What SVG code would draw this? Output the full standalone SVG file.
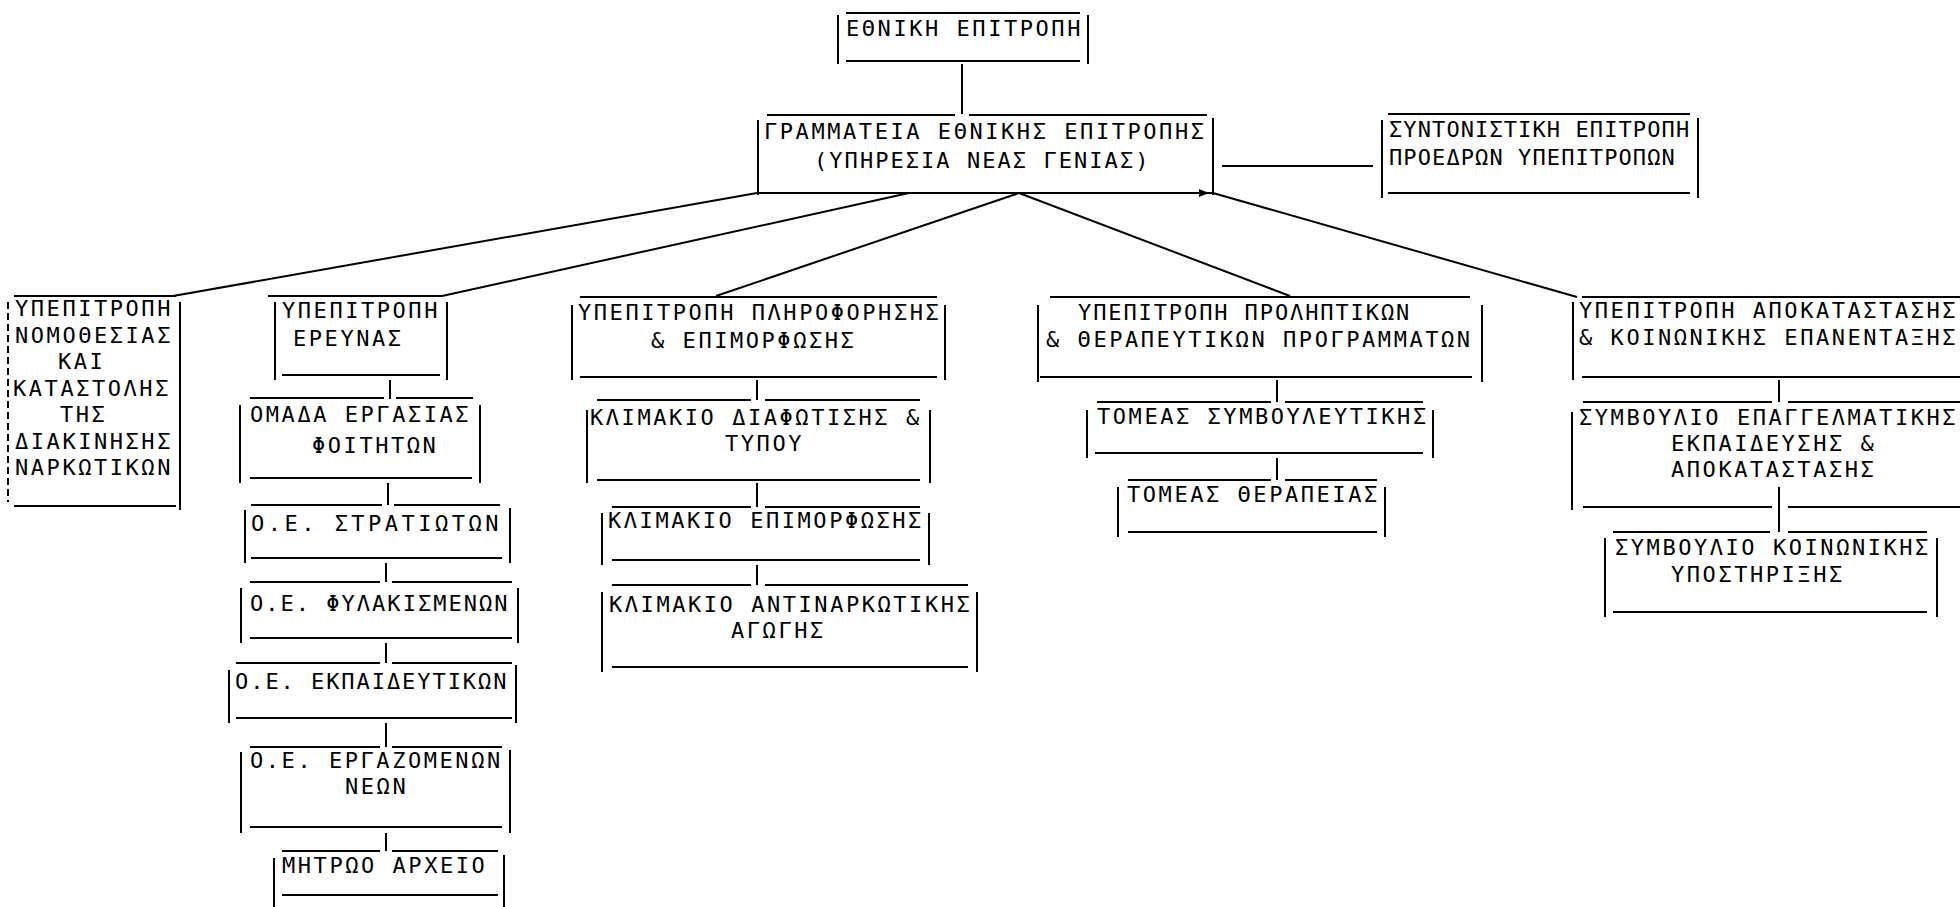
<svg xmlns="http://www.w3.org/2000/svg" width="1960" height="907" viewBox="0 0 1960 907">
<style>
.l{stroke:#000;stroke-width:2;fill:none}
text{font-family:"DejaVu Sans Mono","Liberation Mono",monospace;font-size:22px;letter-spacing:2.55px;fill:#000}
.g1 text{letter-spacing:2.05px}
.g2 text{letter-spacing:1.1px}
.g3 text{letter-spacing:1.9px}
</style>
<rect x="0" y="0" width="1960" height="907" fill="#fff"/>
<g id="connectors" class="l">
<path d="M962 64V114"/>
<path d="M1222 166H1373"/>
<path d="M757 193L173 296"/>
<path d="M909 193L442 296"/>
<path d="M1019 193L716 296"/>
<path d="M1019 193L1290 296"/>
<path d="M1213 193L1577 297"/>
<path d="M390 380V399"/>
<path d="M388 483V505"/>
<path d="M386 563V582"/>
<path d="M386 643V663"/>
<path d="M386 723V747"/>
<path d="M386 833V851"/>
<path d="M757 380V400"/>
<path d="M757 483V507"/>
<path d="M757 565V585"/>
<path d="M1277 380V402"/>
<path d="M1277 458V480"/>
<path d="M1779 380V402"/>
<path d="M1779 487V532"/>
</g>
<g id="ethniki">
<path class="l" d="M846 13H1080M846 61H1080M838 15V64M1088 15V64"/>
<text x="846" y="36">ΕΘΝΙΚΗ ΕΠΙΤΡΟΠΗ</text>
</g>
<g id="grammateia" class="g1">
<path class="l" d="M767 115H955M969 115H1207M758 193H1213M758 120V195M1213 118V195"/>
<polygon points="1199,189 1209,193 1199,197" fill="#000"/>
<text x="764" y="139" textLength="442">ΓΡΑΜΜΑΤΕΙΑ ΕΘΝΙΚΗΣ ΕΠΙΤΡΟΠΗΣ</text>
<text x="814" y="168">(ΥΠΗΡΕΣΙΑ ΝΕΑΣ ΓΕΝΙΑΣ)</text>
</g>
<g id="syntonistiki" class="g2">
<path class="l" d="M1388 114H1690M1388 193H1690M1382 120V198M1698 118V198"/>
<text x="1389" y="137">ΣΥΝΤΟΝΙΣΤΙΚΗ ΕΠΙΤΡΟΠΗ</text>
<text x="1389" y="165">ΠΡΟΕΔΡΩΝ ΥΠΕΠΙΤΡΟΠΩΝ</text>
</g>
<g id="nomothesias">
<path class="l" d="M14 296H176M14 506H176M180 302V510"/>
<path class="l" d="M8 302V502" stroke-dasharray="7 4"/>
<text x="15" y="316">ΥΠΕΠΙΤΡΟΠΗ</text>
<text x="15" y="342.5">ΝΟΜΟΘΕΣΙΑΣ</text>
<text x="58" y="369">ΚΑΙ</text>
<text x="13" y="395.5">ΚΑΤΑΣΤΟΛΗΣ</text>
<text x="60" y="422">ΤΗΣ</text>
<text x="15" y="448.5">ΔΙΑΚΙΝΗΣΗΣ</text>
<text x="15" y="475">ΝΑΡΚΩΤΙΚΩΝ</text>
</g>
<g id="erevnas">
<path class="l" d="M268 296H442M282 375H440M275 302V380M447 302V380"/>
<text x="282" y="318">ΥΠΕΠΙΤΡΟΠΗ</text>
<text x="293" y="346">ΕΡΕΥΝΑΣ</text>
</g>
<g id="omada-foititon">
<path class="l" d="M250 398H384M396 398H473M250 478H472M240 405V483M480 405V483"/>
<text x="250" y="422">ΟΜΑΔΑ ΕΡΓΑΣΙΑΣ</text>
<text x="312" y="453">ΦΟΙΤΗΤΩΝ</text>
</g>
<g id="oe-stratioton">
<path class="l" d="M251 505H382M394 505H500M251 558H502M245 510V563M510 508V563"/>
<text x="251" y="531" textLength="250">Ο.Ε. ΣΤΡΑΤΙΩΤΩΝ</text>
</g>
<g id="oe-fylakismenon">
<path class="l" d="M250 582H380M392 582H512M250 638H512M241 588V643M518 588V643"/>
<text x="250" y="611" textLength="260">Ο.Ε. ΦΥΛΑΚΙΣΜΕΝΩΝ</text>
</g>
<g id="oe-ekpaideytikon">
<path class="l" d="M236 663H380M392 663H512M236 718H512M229 670V723M516 665V723"/>
<text x="235" y="689" textLength="274">Ο.Ε. ΕΚΠΑΙΔΕΥΤΙΚΩΝ</text>
</g>
<g id="oe-ergazomenon">
<path class="l" d="M250 747H380M392 747H502M250 827H502M241 752V833M510 750V833"/>
<text x="250" y="768">Ο.Ε. ΕΡΓΑΖΟΜΕΝΩΝ</text>
<text x="345" y="794">ΝΕΩΝ</text>
</g>
<g id="mitroo-archeio">
<path class="l" d="M282 851H380M392 851H498M282 895H498M274 858V907M504 855V907"/>
<text x="282" y="873">ΜΗΤΡΩΟ ΑΡΧΕΙΟ</text>
</g>
<g id="pliroforisis">
<path class="l" d="M580 297H937M580 377H937M572 305V380M945 305V380"/>
<text x="578" y="320">ΥΠΕΠΙΤΡΟΠΗ ΠΛΗΡΟΦΟΡΗΣΗΣ</text>
<text x="651" y="348">&amp; ΕΠΙΜΟΡΦΩΣΗΣ</text>
</g>
<g id="diafotisis">
<path class="l" d="M597 400H751M765 400H920M597 480H920M587 410V483M930 410V483"/>
<text x="590" y="425">ΚΛΙΜΑΚΙΟ ΔΙΑΦΩΤΙΣΗΣ &amp;</text>
<text x="725" y="451">ΤΥΠΟΥ</text>
</g>
<g id="epimorfosis">
<path class="l" d="M612 507H751M765 507H920M612 560H920M602 513V565M929 513V565"/>
<text x="608" y="528">ΚΛΙΜΑΚΙΟ ΕΠΙΜΟΡΦΩΣΗΣ</text>
</g>
<g id="antinarkotikis">
<path class="l" d="M612 585H751M765 585H968M612 667H968M602 592V672M977 592V672"/>
<text x="609" y="612">ΚΛΙΜΑΚΙΟ ΑΝΤΙΝΑΡΚΩΤΙΚΗΣ</text>
<text x="731" y="638">ΑΓΩΓΗΣ</text>
</g>
<g id="prolptikon" class="g3">
<path class="l" d="M1050 297H1470M1040 377H1472M1038 305V382M1482 305V382"/>
<text x="1078" y="320">ΥΠΕΠΙΤΡΟΠΗ ΠΡΟΛΗΠΤΙΚΩΝ</text>
<text x="1046" y="347" textLength="426">&amp; ΘΕΡΑΠΕΥΤΙΚΩΝ ΠΡΟΓΡΑΜΜΑΤΩΝ</text>
</g>
<g id="symvouleytikis">
<path class="l" d="M1097 402H1271M1285 402H1423M1095 453H1423M1087 410V458M1433 410V458"/>
<text x="1097" y="424">ΤΟΜΕΑΣ ΣΥΜΒΟΥΛΕΥΤΙΚΗΣ</text>
</g>
<g id="therapeias">
<path class="l" d="M1128 480H1271M1285 480H1377M1128 532H1377M1118 487V537M1385 487V537"/>
<text x="1127" y="502">ΤΟΜΕΑΣ ΘΕΡΑΠΕΙΑΣ</text>
</g>
<g id="apokatastasis">
<path class="l" d="M1582 297H1960M1582 377H1960M1573 302V380"/>
<text x="1579" y="318">ΥΠΕΠΙΤΡΟΠΗ ΑΠΟΚΑΤΑΣΤΑΣΗΣ</text>
<text x="1579" y="345">&amp; ΚΟΙΝΩΝΙΚΗΣ ΕΠΑΝΕΝΤΑΞΗΣ</text>
</g>
<g id="epaggelmatikis">
<path class="l" d="M1583 402H1772M1788 402H1960M1583 507H1772M1788 507H1960M1572 412V510"/>
<text x="1579" y="425">ΣΥΜΒΟΥΛΙΟ ΕΠΑΓΓΕΛΜΑΤΙΚΗΣ</text>
<text x="1671" y="451">ΕΚΠΑΙΔΕΥΣΗΣ &amp;</text>
<text x="1671" y="477">ΑΠΟΚΑΤΑΣΤΑΣΗΣ</text>
</g>
<g id="koinonikis">
<path class="l" d="M1613 532H1770M1788 532H1927M1613 612H1927M1605 538V617M1937 538V617"/>
<text x="1615" y="555">ΣΥΜΒΟΥΛΙΟ ΚΟΙΝΩΝΙΚΗΣ</text>
<text x="1671" y="582">ΥΠΟΣΤΗΡΙΞΗΣ</text>
</g>
</svg>
